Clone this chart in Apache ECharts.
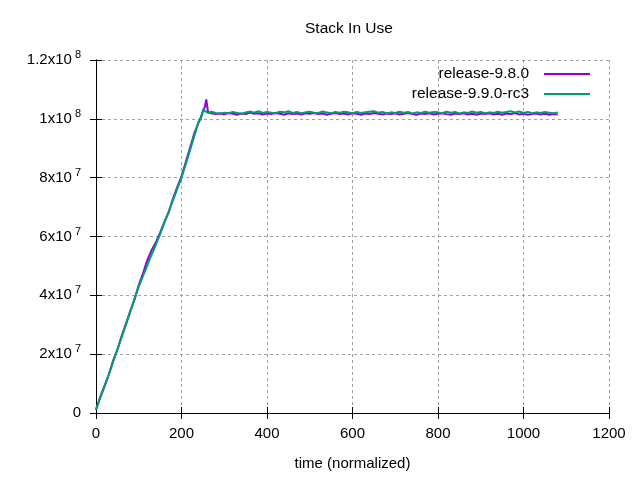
<!DOCTYPE html>
<html>
<head>
<meta charset="utf-8">
<title>Stack In Use</title>
<script src="https://cdn.jsdelivr.net/npm/echarts@6/dist/echarts.min.js"></script>
<style>
    html, body {margin: 0; padding: 0; background: #fff;}
    #chart {width: 640px; height: 480px;}
</style>
</head>
<body>
<div id="chart"></div>
<script>
// time (normalized)
var timeX = [0, 10, 20, 30, 40, 50, 60, 70, 80, 90,
    100, 110, 120, 130, 140, 150, 160, 170, 180, 190,
    200, 210, 220, 230, 240, 245, 251, 255, 258, 262,
    270, 280, 290, 300, 310, 320, 330, 340, 350, 360,
    370, 380, 390, 400, 410, 420, 430, 440, 450, 460,
    470, 480, 490, 500, 510, 520, 530, 540, 550, 560,
    570, 580, 590, 600, 610, 620, 630, 640, 650, 660,
    670, 680, 690, 700, 710, 720, 730, 740, 750, 760,
    770, 780, 790, 800, 810, 820, 830, 840, 850, 860,
    870, 880, 890, 900, 910, 920, 930, 940, 950, 960,
    970, 980, 990, 1000, 1010, 1020, 1030, 1040, 1050, 1060,
    1070, 1080];

// stack in use, millions
var release980 = [1.0, 5.5, 9.3, 13.0, 17.8, 21.5, 26.2, 30.3, 34.6, 38.5,
    43.5, 47.5, 52.0, 55.3, 58.0, 61.3, 65.0, 68.2, 72.8, 76.8,
    80.4, 85.3, 90.2, 95.1, 98.7, 100.5, 102.8, 104.2, 106.6, 102.3,
    101.9, 101.6, 101.8, 101.5, 102.0, 101.7, 101.4, 101.8, 101.6, 102.1,
    101.7, 101.9, 101.5, 101.8, 101.6, 102.0, 101.7, 101.4, 101.9, 101.6,
    101.8, 101.5, 101.9, 101.7, 102.0, 101.6, 101.8, 101.4, 101.7, 102.0,
    101.6, 101.8, 101.5, 101.9, 101.7, 101.4, 101.8, 101.6, 102.0, 101.7,
    101.5, 101.8, 101.6, 101.9, 101.5, 101.7, 102.0, 101.6, 101.4, 101.8,
    101.6, 101.9, 101.5, 101.7, 101.9, 101.6, 101.4, 101.8, 101.6, 101.9,
    101.5, 101.7, 101.4, 101.8, 101.6, 101.9, 101.5, 101.7, 101.4, 101.8,
    101.6, 102.0, 101.5, 101.7, 101.4, 101.6, 101.8, 101.5, 101.7, 101.4,
    101.6, 101.5];

var release990rc3 = [1.3, 5.2, 9.0, 13.1, 17.4, 21.6, 25.8, 30.0, 34.3, 38.8,
    43.0, 46.6, 50.2, 53.8, 57.2, 60.8, 64.7, 68.5, 72.4, 76.2,
    80.0, 84.6, 89.3, 94.2, 99.1, 99.8, 103.4, 102.6, 102.2, 102.0,
    102.4, 102.0, 101.8, 102.1, 101.9, 102.3, 102.0, 101.7, 102.2, 102.5,
    102.1, 102.6, 102.0, 102.3, 102.1, 101.9, 102.4, 102.2, 102.6, 102.0,
    102.3, 101.9, 102.2, 102.4, 102.1, 102.0, 102.5, 102.2, 101.9, 102.3,
    102.1, 102.4, 102.2, 101.9, 102.3, 102.0, 102.2, 102.4, 102.6, 102.1,
    102.3, 101.9, 102.2, 102.0, 102.4, 102.1, 102.3, 101.8, 102.2, 102.0,
    102.4, 102.1, 102.3, 102.2, 101.9, 102.4, 102.1, 102.3, 101.8, 102.2,
    102.0, 102.5, 102.1, 102.3, 101.9, 102.2, 102.0, 102.4, 102.1, 102.3,
    102.6, 102.2, 102.5, 102.0, 102.3, 101.9, 102.2, 102.0, 102.3, 102.1,
    101.9, 102.2];

// y tick labels: mantissa x10^exp
var yTickMantissa = ['0', '2x10', '4x10', '6x10', '8x10', '1x10', '1.2x10'];
var yTickExp = ['', '7', '7', '7', '7', '8', '8'];

var seriesNames = ['release-9.8.0', 'release-9.9.0-rc3'];
var seriesColors = ['#9400d3', '#009e73'];

function pairs(xs, ys) {
    var out = [];
    for (var i = 0; i < xs.length; i++) out.push([xs[i], ys[i]]);
    return out;
}

var FONT = '"Liberation Sans", Arial, sans-serif';
var gridLine = {show: true, lineStyle: {color: '#a0a0a0', width: 1, type: [3, 3]}};
var blackLine = {show: true, lineStyle: {color: '#000', width: 1}};

var chart = echarts.init(document.getElementById('chart'), null, {renderer: 'canvas'});
chart.setOption({
    animation: false,
    backgroundColor: '#fff',
    textStyle: {fontFamily: FONT},
    title: {
        text: 'Stack In Use',
        left: 305,
        top: 21,
        padding: 0,
        textStyle: {fontSize: 15.5, fontWeight: 'normal', color: '#000', fontFamily: FONT}
    },
    legend: [0, 1].map(function (i) {
        return {
            data: [seriesNames[i]],
            right: 50,
            top: 66 + i * 20,
            padding: 0,
            align: 'right',
            icon: 'rect',
            itemWidth: 46,
            itemHeight: 2,
            textStyle: {fontSize: 15.5, color: '#000', fontFamily: FONT, padding: [0, 10, 0, 0]}
        };
    }),
    grid: {left: 96, right: 31, top: 60, bottom: 67, containLabel: false},
    xAxis: [{
        type: 'value',
        min: 0,
        max: 1200,
        interval: 200,
        name: 'time (normalized)',
        nameLocation: 'middle',
        nameGap: 43,
        nameTextStyle: {fontSize: 15, color: '#000', fontFamily: FONT},
        axisLine: blackLine,
        axisTick: {show: true, inside: true, length: 6, lineStyle: {color: '#000'}},
        axisLabel: {
            fontSize: 15, color: '#000', margin: 13, fontFamily: FONT,
            formatter: function (v) { return String(v); }
        },
        splitLine: gridLine
    }, {
        type: 'value',
        position: 'top',
        min: 0,
        max: 1200,
        interval: 200,
        axisLine: blackLine,
        axisTick: {show: true, inside: true, length: 6, lineStyle: {color: '#000'}},
        axisLabel: {show: false},
        splitLine: {show: false}
    }],
    yAxis: [{
        type: 'value',
        min: 0,
        max: 120,
        interval: 20,
        axisLine: blackLine,
        axisTick: {show: true, inside: true, length: 6, lineStyle: {color: '#000'}},
        axisLabel: {
            margin: 15,
            formatter: function (v) {
                var k = Math.round(v / 20);
                var s = '{m|' + yTickMantissa[k] + '}';
                if (yTickExp[k]) s += '{s|' + yTickExp[k] + '}';
                return s;
            },
            rich: {
                m: {fontSize: 15, color: '#000', fontFamily: FONT, lineHeight: 16},
                s: {fontSize: 11, color: '#000', fontFamily: FONT, lineHeight: 12, padding: [0, 0, 10, 3]}
            }
        },
        splitLine: gridLine
    }, {
        type: 'value',
        position: 'right',
        min: 0,
        max: 120,
        interval: 20,
        axisLine: blackLine,
        axisTick: {show: true, inside: true, length: 6, lineStyle: {color: '#000'}},
        axisLabel: {show: false},
        splitLine: {show: false}
    }],
    series: [{
        name: seriesNames[0],
        type: 'line',
        showSymbol: false,
        color: seriesColors[0],
        lineStyle: {width: 2},
        data: pairs(timeX, release980)
    }, {
        name: seriesNames[1],
        type: 'line',
        showSymbol: false,
        color: seriesColors[1],
        lineStyle: {width: 2},
        data: pairs(timeX, release990rc3)
    }]
});
</script>
</body>
</html>
